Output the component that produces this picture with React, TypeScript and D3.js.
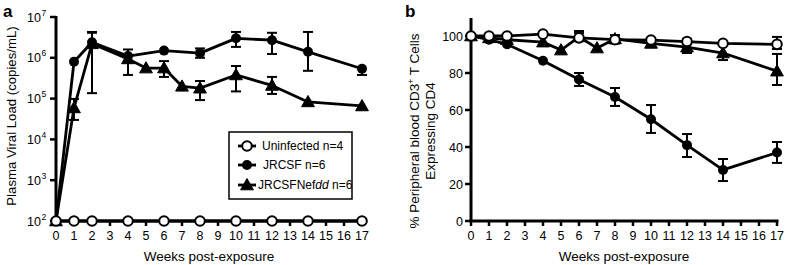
import React from "react";
import * as d3 from "d3";

const weeksUninf = [0, 1, 2, 4, 6, 8, 10, 12, 14, 17];
const weeksJR = [0, 1, 2, 4, 6, 8, 10, 12, 14, 17];
const weeksNef = [0, 1, 2, 4, 5, 6, 7, 8, 10, 12, 14, 17];

// Panel a: viral load (copies/mL)
const vlUninf = [100, 100, 100, 100, 100, 100, 100, 100, 100, 100];
const vlJR = [100, 8e5, 2.4e6, 1.1e6, 1.5e6, 1.3e6, 3.0e6, 2.7e6, 1.4e6, 5.4e5];
const vlJRHi = [null, null, 4.1e6, null, null, 1.7e6, 4.3e6, 4.1e6, 4.3e6, null];
const vlJRLo = [null, null, null, null, null, 1.0e6, 1.85e6, 1.24e6, 4.8e5, 3.8e5];
const vlNef = [100, 5.9e4, 2.2e6, 9.4e5, 5.6e5, 5.6e5, 2.0e5, 1.8e5, 3.8e5, 2.1e5, 8.3e4, 6.6e4];
const vlNefHi = [null, 9.8e4, 4.3e6, 1.6e6, null, 8.3e5, null, 2.7e5, 6.3e5, 3.4e5, null, null];
const vlNefLo = [null, 3.0e4, 1.36e5, 3.8e5, null, 3.4e5, null, 9.2e4, 1.5e5, 1.3e5, null, null];

// Panel b: % CD4
const cdUninf = [100, 100, 100, 101, 99, 98, 97.8, 97, 96, 95.5];
const cdUninfHi = [null, null, null, null, 101.6, null, null, 98.5, null, 99.5];
const cdUninfLo = [null, null, null, null, null, null, null, null, null, 93];
const cdJR = [100, 98, 95.5, 86.6, 76.5, 67, 55, 41, 27.6, 37];
const cdJRHi = [null, null, null, null, 80, 71.9, 62.7, 47, 33.5, 42.7];
const cdJRLo = [null, null, null, null, 73, 62.2, 47.6, 34.6, 21.6, 31.4];
const cdNef = [100, 99, 98, 96.7, 92.4, 99.5, 93.5, 98.4, 96, 94, 90.8, 81];
const cdNefHi = [null, null, null, null, null, 102.7, null, 100.5, null, 96, null, 90.3];
const cdNefLo = [null, null, null, null, null, 97.8, null, 96, null, 90.8, 87, 73.5];

const xTicks = d3.range(0, 18);
const aTicks = [1e2, 1e3, 1e4, 1e5, 1e6, 1e7];
const bTicks = [0, 20, 40, 60, 80, 100];

const FONT = "Arial, 'Liberation Sans', Helvetica, sans-serif";

type Pt = { x: number; y: number; hi: number | null; lo: number | null };

function mk(w: number[], v: number[], hi?: (number | null)[], lo?: (number | null)[]): Pt[] {
  return w.map((x, i) => ({ x, y: v[i], hi: hi ? hi[i] : null, lo: lo ? lo[i] : null }));
}

function Marker({ kind, cx, cy }: { kind: string; cx: number; cy: number }) {
  if (kind === "tri") {
    const s = 6.4;
    return (
      <path
        d={`M${cx},${cy - s}L${cx + s},${cy + s * 0.75}L${cx - s},${cy + s * 0.75}Z`}
        fill="#000"
        stroke="#000"
        strokeWidth={1}
      />
    );
  }
  if (kind === "open") {
    return <circle cx={cx} cy={cy} r={4.8} fill="#fff" stroke="#000" strokeWidth={2} />;
  }
  return <circle cx={cx} cy={cy} r={5} fill="#000" />;
}

function Series({
  pts,
  kind,
  xs,
  ys,
}: {
  pts: Pt[];
  kind: string;
  xs: d3.ScaleLinear<number, number>;
  ys: (v: number) => number;
}) {
  const line = d3
    .line<Pt>()
    .x((d) => xs(d.x))
    .y((d) => ys(d.y));
  return (
    <g>
      <path d={line(pts) || ""} fill="none" stroke="#000" strokeWidth={2.8} strokeLinejoin="round" />
      {pts.map((p, i) => {
        const cx = xs(p.x);
        const cy = ys(p.y);
        const items: React.ReactNode[] = [];
        if (p.hi != null) {
          const yh = ys(p.hi);
          items.push(<line key="h" x1={cx} x2={cx} y1={cy} y2={yh} stroke="#000" strokeWidth={2} />);
          items.push(<line key="hc" x1={cx - 5} x2={cx + 5} y1={yh} y2={yh} stroke="#000" strokeWidth={2} />);
        }
        if (p.lo != null) {
          const yl = ys(p.lo);
          items.push(<line key="l" x1={cx} x2={cx} y1={cy} y2={yl} stroke="#000" strokeWidth={2} />);
          items.push(<line key="lc" x1={cx - 5} x2={cx + 5} y1={yl} y2={yl} stroke="#000" strokeWidth={2} />);
        }
        return <g key={i}>{items}</g>;
      })}
      {pts.map((p, i) => (
        <Marker key={"m" + i} kind={kind} cx={xs(p.x)} cy={ys(p.y)} />
      ))}
    </g>
  );
}

function XAxis({ xs, y }: { xs: d3.ScaleLinear<number, number>; y: number }) {
  return (
    <g>
      <line x1={xs(0) - 1.5} x2={xs(17) + 1.5} y1={y} y2={y} stroke="#000" strokeWidth={3} />
      {xTicks.map((t) => (
        <g key={t}>
          <line x1={xs(t)} x2={xs(t)} y1={y} y2={y + 5} stroke="#000" strokeWidth={2.5} />
          <text x={xs(t)} y={y + 19} textAnchor="middle" fontSize={12.5} fontFamily={FONT}>
            {t}
          </text>
        </g>
      ))}
    </g>
  );
}

export default function App() {
  const xa = d3.scaleLinear().domain([0, 17]).range([56, 362]);
  const ya = d3.scaleLog().domain([1e2, 1e7]).range([221, 17]);
  const xb = d3.scaleLinear().domain([0, 17]).range([471, 777]);
  const yb = d3.scaleLinear().domain([0, 100]).range([221, 36]);

  return (
    <svg width={785} height={265} style={{ position: "absolute", left: 0, top: 0 }} fontFamily={FONT}>
      <rect width={785} height={265} fill="#fff" />
      {/* Panel a */}
      <text x={3} y={17} fontSize={17} fontWeight="bold">a</text>
      <line x1={xa(0)} x2={xa(0)} y1={ya(1e7) - 1} y2={221} stroke="#000" strokeWidth={3} />
      {aTicks.map((t) => {
        const e = Math.round(Math.log10(t));
        return (
          <g key={t}>
            <line x1={xa(0) - 6} x2={xa(0)} y1={ya(t)} y2={ya(t)} stroke="#000" strokeWidth={2.5} />
            <text x={41} y={ya(t) + 4.5} textAnchor="end" fontSize={12.5}>
              10
            </text>
            <text x={41.5} y={ya(t) - 1.5} fontSize={8.5}>
              {e}
            </text>
          </g>
        );
      })}
      <text
        transform={`translate(16,116) rotate(-90)`}
        textAnchor="middle"
        fontSize={13.2}
      >
        Plasma Viral Load (copies/mL)
      </text>
      <XAxis xs={xa} y={221} />
      <text x={209} y={261} textAnchor="middle" fontSize={13.5}>
        Weeks post-exposure
      </text>
      <Series pts={mk(weeksNef, vlNef, vlNefHi, vlNefLo)} kind="tri" xs={xa} ys={ya} />
      <Series pts={mk(weeksJR, vlJR, vlJRHi, vlJRLo)} kind="filled" xs={xa} ys={ya} />
      <Series pts={mk(weeksUninf, vlUninf)} kind="open" xs={xa} ys={ya} />

      {/* Legend */}
      <rect x={229} y={132} width={123} height={67} fill="#fff" stroke="#000" strokeWidth={1.5} />
      {[
        { kind: "open", label: "Uninfected n=4", y: 146 },
        { kind: "filled", label: "JRCSF n=6", y: 165 },
        { kind: "tri", label: "JRCSFNef", italic: "dd", rest: " n=6", y: 185 },
      ].map((l: any) => (
        <g key={l.label}>
          <line x1={238} x2={256} y1={l.y} y2={l.y} stroke="#000" strokeWidth={2.8} />
          <Marker kind={l.kind} cx={247} cy={l.y} />
          <text x={l.kind === "tri" ? 258 : l.kind === "filled" ? 263 : 262} y={l.y + 4} fontSize={12}>
            {l.label}
            {l.italic ? <tspan fontStyle="italic">{l.italic}</tspan> : null}
            {l.rest ? l.rest : null}
          </text>
        </g>
      ))}

      {/* Panel b */}
      <text x={405} y={17} fontSize={17} fontWeight="bold">b</text>
      <line x1={xb(0)} x2={xb(0)} y1={18} y2={221} stroke="#000" strokeWidth={3} />
      {bTicks.map((t) => (
        <g key={t}>
          <line x1={xb(0) - 6} x2={xb(0)} y1={yb(t)} y2={yb(t)} stroke="#000" strokeWidth={2.5} />
          <text x={463} y={yb(t) + 4.5} textAnchor="end" fontSize={12.5}>
            {t}
          </text>
        </g>
      ))}
      <text transform={`translate(419,131) rotate(-90)`} textAnchor="middle" fontSize={13.5}>
        % Peripheral blood CD3
        <tspan fontSize={8.5} dy={-5}>+</tspan>
        <tspan dy={5}> T Cells</tspan>
      </text>
      <text transform={`translate(435,131) rotate(-90)`} textAnchor="middle" fontSize={13.5}>
        Expressing CD4
      </text>
      <XAxis xs={xb} y={221} />
      <text x={624} y={261} textAnchor="middle" fontSize={13.5}>
        Weeks post-exposure
      </text>
      <Series pts={mk(weeksNef, cdNef, cdNefHi, cdNefLo)} kind="tri" xs={xb} ys={yb} />
      <Series pts={mk(weeksJR, cdJR, cdJRHi, cdJRLo)} kind="filled" xs={xb} ys={yb} />
      <Series pts={mk(weeksUninf, cdUninf, cdUninfHi, cdUninfLo)} kind="open" xs={xb} ys={yb} />
    </svg>
  );
}
